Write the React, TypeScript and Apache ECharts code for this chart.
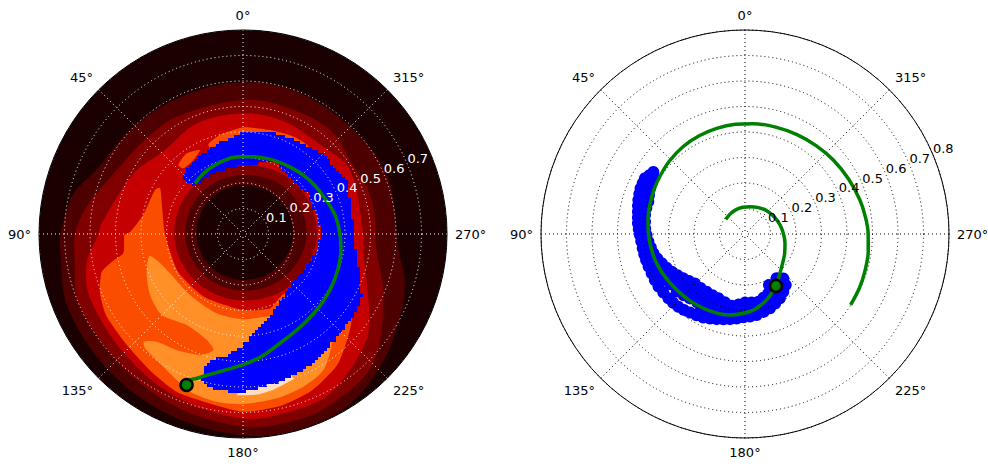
import React, { useEffect, useRef } from "react";
import * as echarts from "echarts";

type P = number[]; // [angle in degrees, radius]

const radiusTicksLeft = [0.1, 0.2, 0.3, 0.4, 0.5, 0.6, 0.7];
const radiusTicksRight = [0.1, 0.2, 0.3, 0.4, 0.5, 0.6, 0.7, 0.8];

const c0 = "#1a0000";
const c1 = "#4d0000";
const c2 = "#800000";
const c3 = "#c40000";
const c4 = "#fb4d00";
const c5 = "#ff8f26";
const c6 = "#ffdcc4";
const blue = "#0000ff";
const green = "#008000";

const level1: P[] = [[0,.595],[22.5,.59],[45,.6],[66,.626],[77,.684],[90,.715],[96,.72],[112.5,.745],[135,.75],[157.5,.765],[180,.79],[195,.797],[211,.79],[226,.748],[240,.703],[253,.664],[265,.611],[292,.61],[315,.594],[340,.597]];
const level2: P[] = [[0,.525],[29.5,.528],[47,.533],[68,.569],[80,.622],[90,.659],[100,.67],[112.5,.7],[135,.7],[157.5,.725],[180,.755],[196,.759],[208.7,.75],[225,.72],[246,.603],[263,.528],[285,.522],[305,.51],[320,.532],[340,.525]];
const level3: P[] = [[0,.473],[22.7,.47],[44,.45],[61,.49],[85.7,.556],[90,.567],[100.6,.624],[112.5,.65],[135,.66],[157.5,.69],[180,.723],[194.8,.72],[208.6,.712],[227,.647],[236.8,.592],[262,.476],[270,.472],[301,.489],[317,.465],[340,.47]];
const level4Main: P[] = [[61,.372],[63.4,.386],[79,.398],[89,.443],[90.5,.465],[99,.475],[102,.526],[105,.574],[112.5,.607],[121,.625],[133.6,.63],[147,.65],[158,.672],[180,.697],[193,.689],[204,.67],[216.4,.63],[232.7,.535],[235,.4],[214,.285],[200,.31],[180,.298],[148,.29],[120,.295],[90,.306],[71,.336]];
const level4Top: P[] = [[21,.378],[13,.399],[0,.418],[345.4,.421],[332.7,.43],[323.2,.428],[323,.36],[340,.36],[0,.38],[21,.36]];
const level4Island: P[] = [[43.1,.371],[34.9,.386],[27.1,.37],[33.9,.349],[42.3,.348]];
const level5: P[] = [[103.2,.377],[112.2,.408],[123.3,.436],[134.9,.45],[148.2,.42],[161.1,.439],[165.7,.469],[160.4,.503],[150.2,.524],[141.3,.541],[137.4,.574],[139.4,.59],[149,.607],[157.1,.635],[162.7,.655],[171,.666],[180,.667],[191.6,.658],[201.6,.644],[210.6,.62],[219.5,.547],[219.9,.49],[199.1,.343],[180,.335],[161.6,.328],[139,.317],[118.3,.325],[108,.349]];
const level6: P[] = [[177.7,.632],[184.9,.632],[191.1,.622],[199.2,.602],[198.6,.575],[185,.585]];
const hole3: P[] = [[0,.27],[45,.27],[90,.27],[135,.262],[180,.261],[225,.275],[270,.29],[315,.285]];
const hole2: P[] = [[0,.231],[45,.23],[90,.227],[135,.222],[180,.222],[225,.235],[270,.25],[315,.245]];
const hole1: P[] = [[0,.192],[45,.187],[90,.182],[135,.18],[180,.18],[225,.187],[270,.197],[315,.197]];

type Shape = { color: string; pts: P[]; smooth: number; stair?: number };

const contours: Shape[] = [
  { color: c1, pts: level1, smooth: 0.35 },
  { color: c2, pts: level2, smooth: 0.35 },
  { color: c3, pts: level3, smooth: 0.35 },
  { color: c4, pts: level4Main, smooth: 0.2 },
  { color: c4, pts: level4Top, smooth: 0.2 },
  { color: c4, pts: level4Island, smooth: 0.2 },
  { color: c5, pts: level5, smooth: 0.25 },
  { color: c6, pts: level6, smooth: 0.1 },
  { color: c2, pts: hole3, smooth: 0.37 },
  { color: c1, pts: hole2, smooth: 0.37 },
  { color: c0, pts: hole1, smooth: 0.37 },
];

const blueLeftOutline: P[] = [[48.2,.318],[45.8,.272],[32.4,.266],[20,.265],[5,.267],[349,.282],[334.5,.307],[315,.28],[302.6,.296],[283,.297],[270.5,.308],[270,.305],[255.3,.299],[242.8,.281],[225.6,.276],[213.8,.296],[198,.341],[190.4,.37],[182,.429],[173.9,.477],[166.7,.507],[164.2,.547],[164.4,.601],[167.9,.619],[175.3,.624],[180,.62],[185,.608],[191.4,.6],[198.2,.589],[203.4,.58],[212.1,.568],[222.4,.545],[234.7,.538],[243.4,.52],[255.7,.467],[265.2,.44],[270,.439],[282.5,.436],[297.5,.459],[315,.447],[330.3,.424],[341.5,.416],[360,.395],[14.2,.367],[26.2,.353],[38.2,.336],[46.1,.324]];

const greenLeft: P[] = [[43.5,.274],[29,.287],[14.9,.298],[3,.303],[352.4,.306],[343,.31],[335,.314],[324,.322],[314,.331],[304,.34],[295,.348],[287,.36],[280.5,.37],[270,.38],[260.7,.389],[250,.397],[239.3,.404],[230,.41],[221.6,.417],[212,.428],[202.7,.443],[196,.46],[189.4,.483],[183,.503],[177.3,.521],[171,.545],[165.5,.572],[162,.596],[160,.61],[159.5,.632]];
const markerLeft: P = [159.5, .632];

const greenRight: P[] = [[52.8,.095],[35,.098],[18.7,.102],[5,.105],[349.6,.109],[333,.116],[317,.125],[300,.133],[284.4,.142],[270,.151],[256.9,.161],[244,.173],[232,.187],[220,.21],[210.8,.237],[204,.255],[198.2,.272],[192,.287],[186.3,.3],[178,.312],[169.5,.323],[160,.329],[150.7,.334],[140,.34],[129.3,.346],[119,.355],[108.4,.365],[99,.372],[89.6,.379],[81,.385],[72.1,.391],[64,.397],[56,.403],[46,.412],[35.2,.42],[25,.425],[15,.429],[5,.432],[355.7,.434],[344,.436],[332.4,.44],[321,.445],[310,.452],[298,.46],[286.5,.47],[278,.477],[270,.483],[262,.488],[253.3,.492],[245,.496],[236.1,.499]];
const markerRight: P = [210.8, .237];

const blueRightOuter: P[] = [[55.9,.434],[60.9,.449],[66.4,.447],[72.3,.439],[78.2,.429],[84.3,.422],[90.5,.412],[98,.405],[104.7,.401],[112.8,.397],[121.3,.397],[130,.392],[137.5,.387],[145,.376],[153.4,.366],[161.6,.352],[170,.339],[178.9,.327],[188.2,.321],[198.6,.307],[208.5,.287],[218.6,.256],[220.8,.23]];
const blueRightOuterFill: P[] = [[58.4,.44],[63.6,.448],[69.3,.443],[75.2,.434],[81.2,.425],[87.4,.417],[94,.408],[101.4,.403],[108.7,.399],[117,.397],[125.6,.394],[133.7,.39],[141.2,.382],[149.2,.371],[157.5,.359],[165.8,.345],[174.4,.333],[183.5,.324],[193.4,.314],[203.5,.297],[213.5,.272]];
const blueRightInner: P[] = [[58,.424],[64.3,.413],[71.5,.4],[79.2,.399],[86.8,.392],[94.5,.38],[101.9,.367],[109.4,.346],[117.2,.323],[125.7,.298],[134.6,.276],[146.4,.272],[157.5,.273],[169.5,.286],[180,.269],[191,.271],[201.5,.25],[205.2,.221],[215.5,.213]];
const blueRightInnerFill: P[] = [[61,.418],[68,.406],[75.3,.4],[83,.395],[90.6,.386],[98.2,.373],[105.6,.357],[113.3,.335],[121.4,.31],[130,.287],[140.5,.274],[152,.272],[163.5,.279],[174.7,.278],[185.5,.27],[196.2,.26]];
const blueRightMiddle: P[] = [[114,.365],[119.4,.367],[130.2,.35],[139.5,.332],[150,.35],[157,.345],[149.6,.323],[160.7,.316],[171.5,.308],[186.4,.293],[197.4,.285],[210.8,.255]];
const blueRightCore: P[] = [[62,.43],[70,.42],[78,.414],[86,.405],[94,.393],[102,.385],[110,.37],[124,.352],[135,.34],[145,.327],[155,.32],[166,.312],[178,.3],[192,.29],[204,.27],[215,.24]];
const blueRightInnerCore: P[] = [[118,.345],[125,.325],[131,.31],[137,.305],[143,.3],[149,.298],[155,.297],[161,.295],[167,.297],[173,.29],[180,.285],[187,.28],[194,.275]];

const toData = (pts: P[]) => pts.map((p) => [p[1], p[0]]);

// Pixel-stepped edge, as the dense square markers of the original give.
const stairs = (pts: number[][], step: number) => {
  const out: number[][] = [];
  const snap = (v: number) => Math.round(v / step) * step;
  pts.forEach((a, i) => {
    const b = pts[(i + 1) % pts.length];
    const n = Math.max(1, Math.ceil(Math.hypot(b[0] - a[0], b[1] - a[1]) / step));
    for (let k = 0; k < n; k++) {
      const x = snap(a[0] + ((b[0] - a[0]) * k) / n);
      const y = snap(a[1] + ((b[1] - a[1]) * k) / n);
      const last = out[out.length - 1];
      if (last && last[0] !== x && last[1] !== y) out.push([x, last[1]]);
      out.push([x, y]);
    }
  });
  return out;
};

const polygonSeries = (name: string, polarIndex: number, list: Shape[], z: number) => ({
  name,
  type: "custom",
  coordinateSystem: "polar",
  polarIndex,
  z,
  silent: true,
  clip: false,
  encode: { radius: 0, angle: 1 },
  data: list.map((c) => [c.pts[0][1], c.pts[0][0]]),
  renderItem: (params: any, api: any) => {
    const c = list[params.dataIndex];
    const pts = c.pts.map((p) => api.coord([p[1], p[0]]));
    return {
      type: "polygon",
      shape: { points: c.stair ? stairs(pts, c.stair) : pts, smooth: c.smooth },
      style: { fill: c.color, stroke: "none" },
    };
  },
});

const lineSeries = (polarIndex: number, pts: P[]) => ({
  type: "line",
  coordinateSystem: "polar",
  polarIndex,
  data: toData(pts),
  smooth: 0.33,
  showSymbol: false,
  symbol: "none",
  clip: false,
  z: 6,
  silent: true,
  lineStyle: { color: green, width: 3.5 },
});

const markerSeries = (polarIndex: number, p: P) => ({
  type: "scatter",
  coordinateSystem: "polar",
  polarIndex,
  data: toData([p]),
  symbolSize: 12,
  clip: false,
  z: 7,
  silent: true,
  itemStyle: { color: green, borderColor: "#000", borderWidth: 2.5, opacity: 1 },
});

const labelSeries = (polarIndex: number, ticks: number[], color: string) => ({
  type: "scatter",
  coordinateSystem: "polar",
  polarIndex,
  data: ticks.map((r) => [r, 292.5]),
  symbolSize: 1,
  clip: false,
  z: 8,
  silent: true,
  itemStyle: { color: "rgba(0,0,0,0)", opacity: 1 },
  label: {
    show: true,
    position: [0, 0],
    align: "left",
    verticalAlign: "bottom",
    color,
    opacity: 1,
    fontSize: 13,
    fontFamily: "DejaVu Sans",
    formatter: (p: any) => p.value[0].toFixed(1),
  },
});

const polarAxes = (gridColor: string, polarIndex: number) => ({
  angle: {
    polarIndex,
    type: "value",
    min: 0,
    max: 360,
    interval: 45,
    startAngle: 90,
    clockwise: false,
    z: 5,
    axisTick: { show: false },
    axisLine: { show: true, lineStyle: { color: "#000", width: 1 } },
    axisLabel: {
      show: true,
      margin: 8,
      align: "center",
      verticalAlign: "middle",
      color: "#000",
      fontSize: 13,
      fontFamily: "DejaVu Sans",
      formatter: (v: number) => `${v}°`,
    },
    splitLine: { show: true, lineStyle: { color: gridColor, width: 1, type: [1, 3] } },
  },
  radius: {
    polarIndex,
    type: "value",
    min: 0,
    max: 0.8,
    interval: 0.1,
    z: 5,
    axisLine: { show: false },
    axisTick: { show: false },
    axisLabel: { show: false },
    splitLine: { show: true, lineStyle: { color: gridColor, width: 1, type: [1, 3] } },
  },
});

export default function App() {
  const ref = useRef<HTMLDivElement>(null);
  useEffect(() => {
    document.body.style.margin = "0";
    const chart = echarts.init(ref.current!, undefined, { renderer: "svg" });
    const a = polarAxes("#ffffff", 0);
    const b = polarAxes("#000000", 1);
    chart.setOption({
      animation: false,
      backgroundColor: "#fff",
      polar: [
        { center: [243, 234], radius: [0, 204] },
        { center: [745, 234], radius: [0, 204] },
      ],
      angleAxis: [a.angle, b.angle],
      radiusAxis: [a.radius, b.radius],
      series: [
        {
          type: "custom",
          coordinateSystem: "polar",
          polarIndex: 0,
          z: 0,
          silent: true,
          clip: false,
          encode: { radius: 0, angle: 1 },
          data: [[0.8, 0]],
          renderItem: (_: any, api: any) => {
            const c = api.coord([0, 0]);
            const e = api.coord([0.8, 0]);
            return { type: "circle", shape: { cx: c[0], cy: c[1], r: Math.abs(c[1] - e[1]) }, style: { fill: c0 } };
          },
        },
        polygonSeries("contours", 0, contours, 1),
        polygonSeries("selected", 0, [{ color: blue, pts: blueLeftOutline, smooth: 0, stair: 3 }], 2),
        lineSeries(0, greenLeft),
        markerSeries(0, markerLeft),
        labelSeries(0, radiusTicksLeft, "#fff"),
        ...[blueRightOuter, blueRightOuterFill, blueRightInner, blueRightInnerFill, blueRightMiddle, blueRightCore, blueRightInnerCore].map((pts) => ({
          type: "scatter",
          coordinateSystem: "polar",
          polarIndex: 1,
          data: toData(pts),
          symbolSize: 12,
          clip: false,
          z: 2,
          silent: true,
          itemStyle: { color: blue, opacity: 1 },
        })),
        lineSeries(1, greenRight),
        markerSeries(1, markerRight),
        labelSeries(1, radiusTicksRight, "#000"),
      ],
    });
    return () => chart.dispose();
  }, []);
  return <div ref={ref} style={{ width: 988, height: 469 }} />;
}
